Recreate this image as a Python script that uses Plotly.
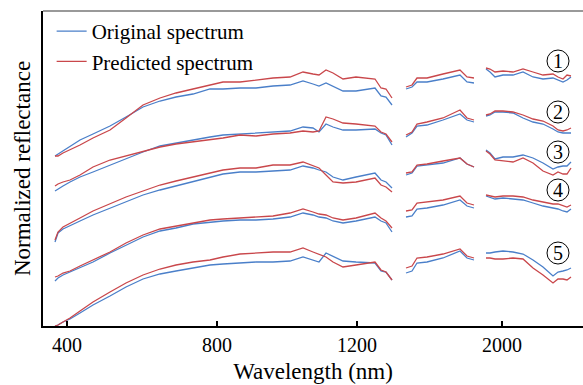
import plotly.graph_objects as go

# Band index along the (gap-compressed) wavelength axis; None marks removed water-absorption bands
band = [12, 15, 20, 27, 37, 50, 67, 83, 100, 117, 133, 150, 167, 180, 197, 213, 230, 247,
        260, 270, 276, 283, 290, 300, 313, 332, 338, 343, 349,
        356,
        363, 369, 374, 384, 400, 417, 424, 431,
        437,
        443, 447, 452, 460, 470, 480, 490, 500, 510, 515, 520, 524, 528]

tick_band = [24, 174, 314, 459]
tick_text = ["400", "800", "1200", "2000"]

G = None
orig_1 = [1.70, 1.72, 1.75, 1.80, 1.86, 1.92, 2.00, 2.09, 2.19, 2.25, 2.29, 2.32, 2.37, 2.37, 2.38, 2.38, 2.40, 2.41,
          2.45, 2.42, 2.40, 2.43, 2.40, 2.35, 2.35, 2.38, 2.30, 2.29, 2.21,
          G,
          2.37, 2.39, 2.44, 2.44, 2.47, 2.51, 2.44, 2.43,
          G,
          2.57, 2.54, 2.49, 2.51, 2.51, 2.54, 2.49, 2.47, 2.48, 2.46, 2.44, 2.46, 2.49]
pred_1 = [1.70, 1.70, 1.73, 1.76, 1.81, 1.88, 1.96, 2.08, 2.21, 2.28, 2.33, 2.37, 2.41, 2.44, 2.44, 2.46, 2.48, 2.49,
          2.54, 2.52, 2.51, 2.56, 2.53, 2.47, 2.49, 2.47, 2.38, 2.37, 2.28,
          G,
          2.39, 2.41, 2.48, 2.48, 2.52, 2.56, 2.49, 2.48,
          G,
          2.58, 2.57, 2.54, 2.55, 2.54, 2.57, 2.54, 2.51, 2.52, 2.49, 2.47, 2.51, 2.50]
orig_2 = [1.35, 1.37, 1.40, 1.44, 1.49, 1.54, 1.61, 1.67, 1.74, 1.80, 1.83, 1.86, 1.89, 1.91, 1.92, 1.93, 1.94, 1.95,
          1.99, 1.98, 1.94, 2.02, 1.99, 1.96, 1.96, 1.97, 1.93, 1.91, 1.81,
          G,
          1.89, 1.93, 2.00, 2.01, 2.06, 2.12, 2.06, 2.04,
          G,
          2.10, 2.11, 2.14, 2.14, 2.13, 2.08, 2.04, 2.02, 1.97, 1.94, 1.93, 1.93, 1.93]
pred_2 = [1.40, 1.42, 1.44, 1.46, 1.51, 1.59, 1.66, 1.70, 1.74, 1.79, 1.82, 1.84, 1.86, 1.88, 1.91, 1.90, 1.92, 1.93,
          1.95, 1.94, 1.95, 2.09, 2.07, 2.03, 2.02, 2.00, 1.94, 1.92, 1.84,
          G,
          1.91, 1.94, 2.02, 2.04, 2.08, 2.16, 2.08, 2.06,
          G,
          2.11, 2.12, 2.15, 2.15, 2.14, 2.11, 2.07, 2.05, 2.00, 1.96, 1.95, 1.96, 1.98]
orig_3 = [0.84, 0.93, 0.97, 1.00, 1.05, 1.11, 1.18, 1.24, 1.31, 1.36, 1.40, 1.45, 1.49, 1.52, 1.54, 1.54, 1.55, 1.56,
          1.60, 1.58, 1.56, 1.54, 1.49, 1.46, 1.49, 1.53, 1.46, 1.44, 1.38,
          G,
          1.51, 1.53, 1.60, 1.61, 1.63, 1.68, 1.62, 1.59,
          G,
          1.76, 1.73, 1.67, 1.69, 1.69, 1.71, 1.68, 1.63, 1.57, 1.59, 1.60, 1.60, 1.64]
pred_3 = [0.86, 0.94, 0.99, 1.03, 1.08, 1.15, 1.22, 1.29, 1.35, 1.41, 1.45, 1.49, 1.53, 1.56, 1.58, 1.58, 1.61, 1.61,
          1.64, 1.60, 1.58, 1.51, 1.44, 1.43, 1.44, 1.48, 1.41, 1.39, 1.34,
          G,
          1.53, 1.54, 1.61, 1.62, 1.65, 1.68, 1.62, 1.59,
          G,
          1.75, 1.72, 1.66, 1.65, 1.64, 1.68, 1.63, 1.55, 1.51, 1.54, 1.52, 1.52, 1.58]
orig_4 = [0.45, 0.48, 0.51, 0.54, 0.58, 0.64, 0.73, 0.81, 0.89, 0.95, 0.98, 1.02, 1.04, 1.05, 1.06, 1.06, 1.07, 1.09,
          1.13, 1.11, 1.09, 1.08, 1.05, 1.03, 1.05, 1.09, 1.05, 1.03, 0.94,
          G,
          1.09, 1.10, 1.17, 1.18, 1.21, 1.26, 1.20, 1.18,
          G,
          1.30, 1.29, 1.27, 1.28, 1.27, 1.26, 1.23, 1.20, 1.18, 1.17, 1.15, 1.14, 1.17]
pred_4 = [0.49, 0.50, 0.53, 0.55, 0.60, 0.66, 0.74, 0.83, 0.91, 0.97, 1.00, 1.03, 1.06, 1.07, 1.08, 1.09, 1.10, 1.13,
          1.17, 1.14, 1.12, 1.11, 1.08, 1.06, 1.08, 1.13, 1.08, 1.05, 0.98,
          G,
          1.15, 1.16, 1.23, 1.24, 1.26, 1.30, 1.23, 1.21,
          G,
          1.31, 1.30, 1.29, 1.30, 1.30, 1.29, 1.26, 1.24, 1.22, 1.22, 1.20, 1.19, 1.21]
orig_5 = [0.00, 0.01, 0.04, 0.07, 0.13, 0.21, 0.30, 0.39, 0.47, 0.52, 0.55, 0.58, 0.61, 0.62, 0.63, 0.64, 0.64, 0.65,
          0.69, 0.66, 0.64, 0.73, 0.70, 0.65, 0.64, 0.63, 0.55, 0.54, 0.46,
          G,
          0.53, 0.55, 0.63, 0.64, 0.68, 0.75, 0.68, 0.66,
          G,
          0.73, 0.73, 0.74, 0.75, 0.74, 0.72, 0.66, 0.59, 0.50, 0.54, 0.55, 0.56, 0.58]
pred_5 = [0.00, 0.01, 0.04, 0.08, 0.15, 0.24, 0.34, 0.43, 0.51, 0.57, 0.61, 0.64, 0.66, 0.69, 0.72, 0.73, 0.74, 0.74,
          0.78, 0.74, 0.72, 0.69, 0.64, 0.59, 0.61, 0.64, 0.56, 0.54, 0.46,
          G,
          0.58, 0.60, 0.68, 0.69, 0.72, 0.77, 0.70, 0.68,
          G,
          0.68, 0.68, 0.67, 0.67, 0.68, 0.67, 0.58, 0.51, 0.43, 0.47, 0.47, 0.46, 0.49]

sample_labels = ["1", "2", "3", "4", "5"]
label_band = [515, 515, 515, 515, 515]
label_level = [2.65, 2.14, 1.74, 1.36, 0.73]

BLUE = "#4a7fc9"
RED = "#c9474b"
FONT = "'Liberation Serif', 'Times New Roman', 'DejaVu Serif', serif"

originals = [orig_1, orig_2, orig_3, orig_4, orig_5]
predicted = [pred_1, pred_2, pred_3, pred_4, pred_5]

fig = go.Figure()
for i, (o, p) in enumerate(zip(originals, predicted)):
    fig.add_trace(go.Scatter(x=band, y=o, mode="lines", line=dict(color=BLUE, width=1.3),
                             name="Original spectrum", showlegend=(i == 0), legendgroup="a",
                             connectgaps=False))
    fig.add_trace(go.Scatter(x=band, y=p, mode="lines", line=dict(color=RED, width=1.3),
                             name="Predicted spectrum", showlegend=(i == 0), legendgroup="b",
                             connectgaps=False))

for lab, xb, yl in zip(sample_labels, label_band, label_level):
    fig.add_annotation(x=xb, y=yl, text=lab, showarrow=False,
                       font=dict(family=FONT, size=20, color="black"))
    fig.add_shape(type="circle", xref="x", yref="y", x0=xb - 11, x1=xb + 11,
                  y0=yl - 0.11, y1=yl + 0.11, line=dict(color="black", width=1))

fig.add_shape(type="line", xref="paper", yref="paper", x0=0, x1=1, y0=1, y1=1,
              line=dict(color="#777777", width=1.5))

fig.update_layout(
    width=583, height=385,
    margin=dict(l=43, r=0, t=11, b=59),
    paper_bgcolor="white", plot_bgcolor="white",
    font=dict(family=FONT, color="black"),
    showlegend=True,
    legend=dict(x=0.016, y=1.0, xanchor="left", yanchor="top", bgcolor="rgba(0,0,0,0)",
                font=dict(family=FONT, size=21), tracegroupgap=0),
    xaxis=dict(range=[0, 540], tickvals=tick_band, ticktext=tick_text, ticks="inside",
               ticklen=5, tickwidth=2, tickcolor="black", showline=True, linecolor="black",
               linewidth=2, showgrid=False, zeroline=False,
               tickfont=dict(family=FONT, size=20, color="black"),
               title=dict(text="Wavelength (nm)", font=dict(family=FONT, size=23), standoff=8)),
    yaxis=dict(range=[0, 3.15], showticklabels=False, ticks="", showline=True, linecolor="black",
               linewidth=2, showgrid=False, zeroline=False,
               title=dict(text="Normalized reflectance", font=dict(family=FONT, size=23), standoff=4)),
)

fig.write_html("out.html")
